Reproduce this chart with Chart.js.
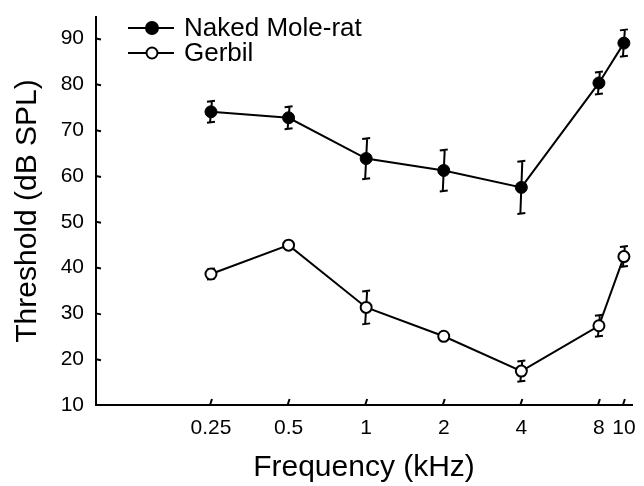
<!DOCTYPE html>
<html lang="en">
<head>
    <meta charset="UTF-8">
    <title>Hearing thresholds</title>
    <script src="https://cdn.jsdelivr.net/npm/chart.js"></script>
    <style>
        body { margin: 0; background: #fff; }
        #wrap { width: 644px; height: 486px; }
    </style>
</head>
<body>
    <div id="wrap"><canvas id="chart" width="644" height="486"></canvas></div>
    <script>
        // Data
        const freqs = [0.25, 0.5, 1, 2, 4, 8, 10];
        const xTicks = [0.25, 0.5, 1, 2, 4, 8, 10];
        const yTicks = [10, 20, 30, 40, 50, 60, 70, 80, 90];
        const moleRat = [74.0, 72.7, 63.8, 61.2, 57.5, 80.3, 89.0];
        const moleRatErr = [2.4, 2.5, 4.5, 4.6, 5.8, 2.5, 3.0];
        const gerbil = [38.6, 44.9, 31.3, 25.0, 17.4, 27.3, 42.4];
        const gerbilErr = [1.2, 0, 3.7, 0, 2.3, 2.4, 2.3];
        const seriesNames = ['Naked Mole-rat', 'Gerbil'];

        const FONT = "'Liberation Sans', Arial, sans-serif";

        // error bars drawn under the points
        const errorBars = {
            id: 'errorBars',
            beforeDatasetsDraw(chart) {
                const ctx = chart.ctx;
                const x = chart.scales.x, y = chart.scales.y;
                const errs = [moleRatErr, gerbilErr];
                ctx.save();
                ctx.strokeStyle = '#000';
                ctx.lineWidth = 2;
                chart.data.datasets.forEach((ds, i) => {
                    ds.data.forEach((p, j) => {
                        const e = errs[i][j];
                        if (!e) return;
                        const px = x.getPixelForValue(p.x);
                        const top = y.getPixelForValue(p.y + e);
                        const bot = y.getPixelForValue(p.y - e);
                        ctx.beginPath();
                        ctx.moveTo(px + 1, top);
                        ctx.lineTo(px - 1, bot);
                        ctx.moveTo(px - 4, top + 1);
                        ctx.lineTo(px + 4, top);
                        ctx.moveTo(px - 4, bot);
                        ctx.lineTo(px + 4, bot - 1);
                        ctx.stroke();
                    });
                });
                ctx.restore();
            }
        };

        // short tick marks pointing into the plot
        const insideTicks = {
            id: 'insideTicks',
            afterDraw(chart) {
                const ctx = chart.ctx;
                const x = chart.scales.x, y = chart.scales.y;
                const area = chart.chartArea;
                ctx.save();
                ctx.strokeStyle = '#000';
                ctx.lineWidth = 2;
                ctx.beginPath();
                xTicks.forEach(v => {
                    const px = x.getPixelForValue(v);
                    ctx.moveTo(px - 1, area.bottom);
                    ctx.lineTo(px + 1, area.bottom - 6);
                });
                yTicks.forEach(v => {
                    const py = y.getPixelForValue(v);
                    if (v === 10) return;
                    ctx.moveTo(area.left, py);
                    ctx.lineTo(area.left + 5, py + 1);
                });
                ctx.stroke();
                ctx.restore();
            }
        };

        // legend with line + marker, top left
        const lineLegend = {
            id: 'lineLegend',
            afterDraw(chart) {
                const ctx = chart.ctx;
                ctx.save();
                ctx.font = '26px ' + FONT;
                ctx.textBaseline = 'middle';
                ctx.fillStyle = '#000';
                chart.data.datasets.forEach((ds, i) => {
                    const yy = 28 + i * 25;
                    ctx.strokeStyle = '#000';
                    ctx.lineWidth = 2;
                    ctx.beginPath();
                    ctx.moveTo(128, yy);
                    ctx.lineTo(174, yy);
                    ctx.stroke();
                    ctx.beginPath();
                    ctx.arc(152, yy, ds.pointRadius, 0, Math.PI * 2);
                    ctx.fillStyle = ds.pointBackgroundColor;
                    ctx.fill();
                    ctx.stroke();
                    ctx.fillStyle = '#000';
                    ctx.fillText(ds.label, 184, yy + 1);
                });
                ctx.restore();
            }
        };

        new Chart(document.getElementById('chart'), {
            type: 'line',
            data: {
                datasets: [
                    {
                        label: seriesNames[0],
                        data: freqs.map((f, i) => ({ x: f, y: moleRat[i] })),
                        borderColor: '#000',
                        borderWidth: 2,
                        pointRadius: 6,
                        pointBackgroundColor: '#000',
                        pointBorderColor: '#000',
                        pointBorderWidth: 1,
                        tension: 0
                    },
                    {
                        label: seriesNames[1],
                        data: freqs.map((f, i) => ({ x: f, y: gerbil[i] })),
                        borderColor: '#000',
                        borderWidth: 2,
                        pointRadius: 5.5,
                        pointBackgroundColor: '#fff',
                        pointBorderColor: '#000',
                        pointBorderWidth: 2,
                        tension: 0
                    }
                ]
            },
            options: {
                responsive: false,
                animation: false,
                layout: { padding: { top: 17, right: 12, left: 0, bottom: 0 } },
                plugins: {
                    legend: { display: false },
                    tooltip: { enabled: false }
                },
                scales: {
                    x: {
                        type: 'logarithmic',
                        min: 0.0895,
                        max: 10.75,
                        afterFit(scale) {
                            scale.height = 81;
                            scale.paddingLeft = 0;
                            scale.paddingRight = 0;
                        },
                        afterBuildTicks(scale) {
                            scale.ticks = xTicks.map(v => ({ value: v }));
                        },
                        ticks: {
                            color: '#000',
                            font: { family: FONT, size: 21 },
                            padding: 11,
                            maxRotation: 0,
                            autoSkip: false,
                            callback: v => String(v)
                        },
                        grid: { display: true, drawOnChartArea: false, drawTicks: false },
                        border: { color: '#000', width: 2 },
                        title: {
                            display: true,
                            text: 'Frequency (kHz)',
                            color: '#000',
                            font: { family: FONT, size: 30 },
                            padding: { top: 0, bottom: 0 }
                        }
                    },
                    y: {
                        type: 'linear',
                        min: 10,
                        max: 94.7,
                        afterFit(scale) {
                            scale.width = 96;
                            scale.paddingTop = 0;
                            scale.paddingBottom = 0;
                        },
                        afterBuildTicks(scale) {
                            scale.ticks = yTicks.map(v => ({ value: v }));
                        },
                        ticks: {
                            color: '#000',
                            font: { family: FONT, size: 21 },
                            padding: 12
                        },
                        grid: { display: true, drawOnChartArea: false, drawTicks: false },
                        border: { color: '#000', width: 2 },
                        title: {
                            display: true,
                            text: 'Threshold (dB SPL)',
                            color: '#000',
                            font: { family: FONT, size: 30 },
                            padding: { top: 10, bottom: 0 }
                        }
                    }
                }
            },
            plugins: [errorBars, insideTicks, lineLegend]
        });
    </script>
</body>
</html>
